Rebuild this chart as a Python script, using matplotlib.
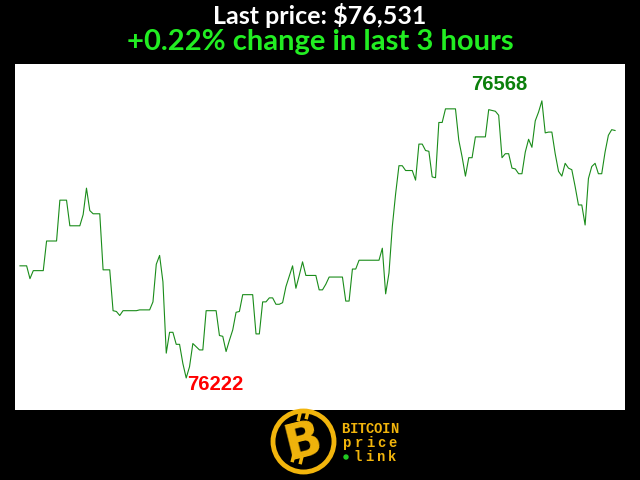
import matplotlib
matplotlib.use("Agg")
import matplotlib.pyplot as plt
from matplotlib.patches import Ellipse

# Bitcoin price, one point per minute over the last 3 hours
prices = [
    76362, 76362, 76362, 76346, 76356, 76356, 76356, 76356, 76393, 76393,
    76393, 76393, 76444, 76444, 76444, 76412, 76412, 76412, 76412, 76426,
    76459, 76431, 76427, 76427, 76427, 76357, 76357, 76357, 76306, 76305,
    76300, 76306, 76306, 76306, 76306, 76306, 76307, 76307, 76307, 76307,
    76317, 76364, 76375, 76342, 76253, 76279, 76279, 76264, 76264, 76240,
    76222, 76236, 76265, 76261, 76257, 76257, 76306, 76306, 76306, 76306,
    76275, 76274, 76255, 76269, 76282, 76304, 76305, 76326, 76326, 76326,
    76326, 76277, 76277, 76317, 76317, 76322, 76322, 76314, 76314, 76316,
    76336, 76349, 76362, 76334, 76350, 76367, 76350, 76350, 76350, 76350,
    76332, 76332, 76339, 76348, 76348, 76348, 76348, 76348, 76318, 76318,
    76358, 76358, 76369, 76369, 76369, 76369, 76369, 76369, 76369, 76384,
    76327, 76353, 76411, 76452, 76487, 76487, 76481, 76481, 76481, 76469,
    76514, 76514, 76506, 76505, 76473, 76472, 76541, 76541, 76558, 76558,
    76558, 76558, 76519, 76498, 76474, 76497, 76497, 76523, 76523, 76523,
    76523, 76557, 76556, 76555, 76550, 76497, 76502, 76502, 76484, 76483,
    76477, 76477, 76504, 76520, 76510, 76543, 76554, 76568, 76528, 76529,
    76529, 76502, 76480, 76474, 76490, 76484, 76482, 76461, 76438, 76438,
    76413, 76471, 76486, 76490, 76477, 76477, 76504, 76525, 76532, 76531,
]
minutes = list(range(len(prices)))

title_price = "Last price: $76,531"
title_change = "+0.22% change in last 3 hours"
logo_words = ["BITCOIN", "price", "link"]

GOLD = "#f2b50c"

fig = plt.figure(figsize=(6.4, 4.8), dpi=100, facecolor="black")
ax = fig.add_axes([15 / 640, 70 / 480, 610 / 640, 346 / 480])
ax.set_facecolor("white")
ax.plot(minutes, prices, color="#1a8c1a", lw=0.8)
ax.set_xlim(-1.5, 182)
ax.set_ylim(76182, 76614)
ax.set_xticks([])
ax.set_yticks([])
for s in ax.spines.values():
    s.set_visible(False)

# max / min labels
i_max = prices.index(max(prices))
i_min = prices.index(min(prices))
ax.text(144.2, 76589, str(prices[i_max]), color="#0b800b", fontsize=14.5,
        fontweight="bold", family="Liberation Sans", ha="center", va="center")
ax.text(58.8, 76214, str(prices[i_min]), color="#ff0000", fontsize=14.5,
        fontweight="bold", family="Liberation Sans", ha="center", va="center")

fig.text(0.5, 1 - 16 / 480, title_price, color="white", fontsize=18,
         fontweight="bold", family="Lato", ha="center", va="center")
fig.text(0.5, 1 - 42 / 480, title_change, color="#22ee22", fontsize=21,
         fontweight="bold", family="Lato", ha="center", va="center")

# logo
cx, cy, r = 303.5, 441.5, 30.5
fig.patches.append(Ellipse((cx / 640, 1 - cy / 480), 2 * r / 640, 2 * r / 480,
                           transform=fig.transFigure, facecolor="black",
                           edgecolor=GOLD, lw=3.5))
fig.text(cx / 640 - 0.001, 1 - cy / 480, "B", color=GOLD, fontsize=35,
         fontweight="heavy", family="DejaVu Sans", rotation=14,
         ha="center", va="center")
for dx, dy in [(-5, -22), (3, -24), (-11, 19), (-3, 21)]:
    x0 = (cx + dx) / 640
    y0 = 1 - (cy + dy) / 480
    fig.lines.append(plt.Line2D([x0, x0 + 1.2 / 640], [y0, y0 + 5 / 480],
                                transform=fig.transFigure, color=GOLD, lw=2.5))

# logo words, letters spread across the same width
spans = [(341.7, 398.3), (341.7, 398.3), (352.0, 398.3)]
for word, (x0, x1), y in zip(logo_words, spans, [429, 443, 457]):
    w = (x1 - x0) / len(word)
    for j, ch in enumerate(word):
        fig.text((x0 + w * (j + 0.5)) / 640, 1 - y / 480, ch, color=GOLD,
                 fontsize=10, fontweight="bold", family="Liberation Mono",
                 ha="center", va="center")
fig.patches.append(Ellipse((346 / 640, 1 - 457 / 480), 4 / 640, 4 / 480,
                           transform=fig.transFigure, color="#22cc22"))

fig.savefig("out.png", dpi=100, facecolor="black")
